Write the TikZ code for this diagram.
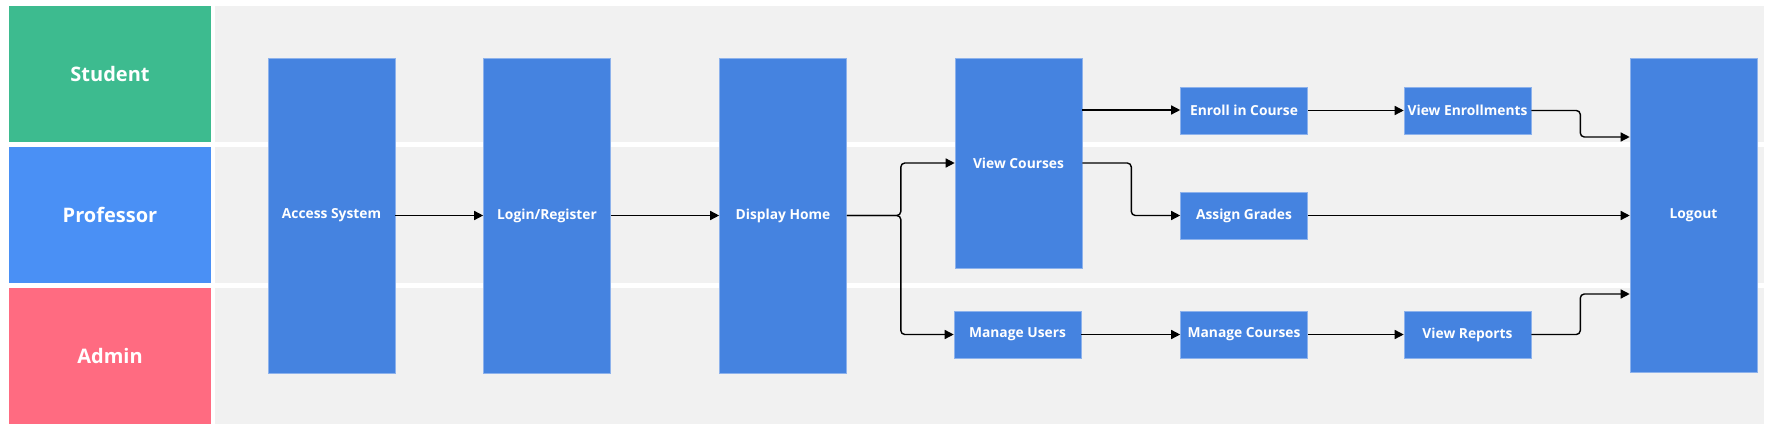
\documentclass[tikz,border=0pt]{standalone}
\usepackage{fontspec}
\setmainfont{Open Sans}
\usetikzlibrary{arrows.meta}

\definecolor{studentgreen}{HTML}{3DBB8F}
\definecolor{profblue}{HTML}{4A90F5}
\definecolor{adminred}{HTML}{FF6B81}
\definecolor{stepblue}{HTML}{4583E0}
\definecolor{stepedge}{HTML}{8DB2EC}
\definecolor{lanegrey}{HTML}{F1F1F1}

\begin{document}
\begin{tikzpicture}[x=1pt, y=-1pt, font=\bfseries,
  lanehead/.style={minimum width=202pt, minimum height=136pt, inner sep=0pt, text=white, font=\bfseries\fontsize{20}{23}\selectfont},
  stepbox/.style={fill=stepblue, draw=stepedge, line width=0.6pt, text=white, inner sep=0pt, minimum width=127pt, font=\bfseries\fontsize{13.8}{16}\selectfont},
  flow/.style={draw=black, line width=1.4pt, rounded corners=4pt, -{Triangle[length=9pt, width=9pt]}}]

\useasboundingbox (0,0) rectangle (1767,428);

% lanes
\fill[lanegrey] (215,6) rectangle (1764,142);
\fill[lanegrey] (215,147) rectangle (1764,283);
\fill[lanegrey] (215,288) rectangle (1764,424);

\node[lanehead, fill=studentgreen] (student) at (110,74) {Student};
\node[lanehead, fill=profblue] (professor) at (110,215) {Professor};
\node[lanehead, fill=adminred] (admin) at (110,356) {Admin};

% steps
\node[stepbox, minimum height=315pt] (access) at (331.5,215.5) {Access System};
\node[stepbox, minimum height=315pt] (login) at (547,215.5) {Login/Register};
\node[stepbox, minimum height=315pt] (home) at (783,215.5) {Display Home};
\node[stepbox, minimum height=210pt] (viewcourses) at (1018.5,163) {View Courses};
\node[stepbox, minimum height=47pt] (enroll) at (1244,110.5) {Enroll in Course};
\node[stepbox, minimum height=47pt] (assign) at (1244,215.5) {Assign Grades};
\node[stepbox, minimum height=47pt] (users) at (1017.5,334.5) {Manage Users};
\node[stepbox, minimum height=47pt] (mcourses) at (1244,334.5) {Manage Courses};
\node[stepbox, minimum height=47pt] (enrollments) at (1467.5,110.5) {View Enrollments};
\node[stepbox, minimum height=47pt] (reports) at (1467.5,334.5) {View Reports};
\node[stepbox, minimum height=314pt] (logout) at (1693.5,215) {Logout};

% flows
\draw[flow] (access) -- (login);
\draw[flow] (login) -- (home);
\draw[flow] (home.east) -- ++(54,0) |- (viewcourses.west);
\draw[flow] (home.east) -- ++(54,0) |- (users.west);
\draw[flow] ([yshift=53pt]viewcourses.east) -- ([yshift=53pt]viewcourses.east -| enroll.west);
\draw[flow] (viewcourses.east) -- ++(49,0) |- (assign.west);
\draw[flow] (enroll) -- (enrollments);
\draw[flow] (assign) -- (assign -| logout.west);
\draw[flow] (users) -- (mcourses);
\draw[flow] (mcourses) -- (reports);
\draw[flow] (enrollments.east) -- ++(49,0) |- ([yshift=78pt]logout.west);
\draw[flow] (reports.east) -- ++(49,0) |- ([yshift=-79pt]logout.west);

\end{tikzpicture}
\end{document}
